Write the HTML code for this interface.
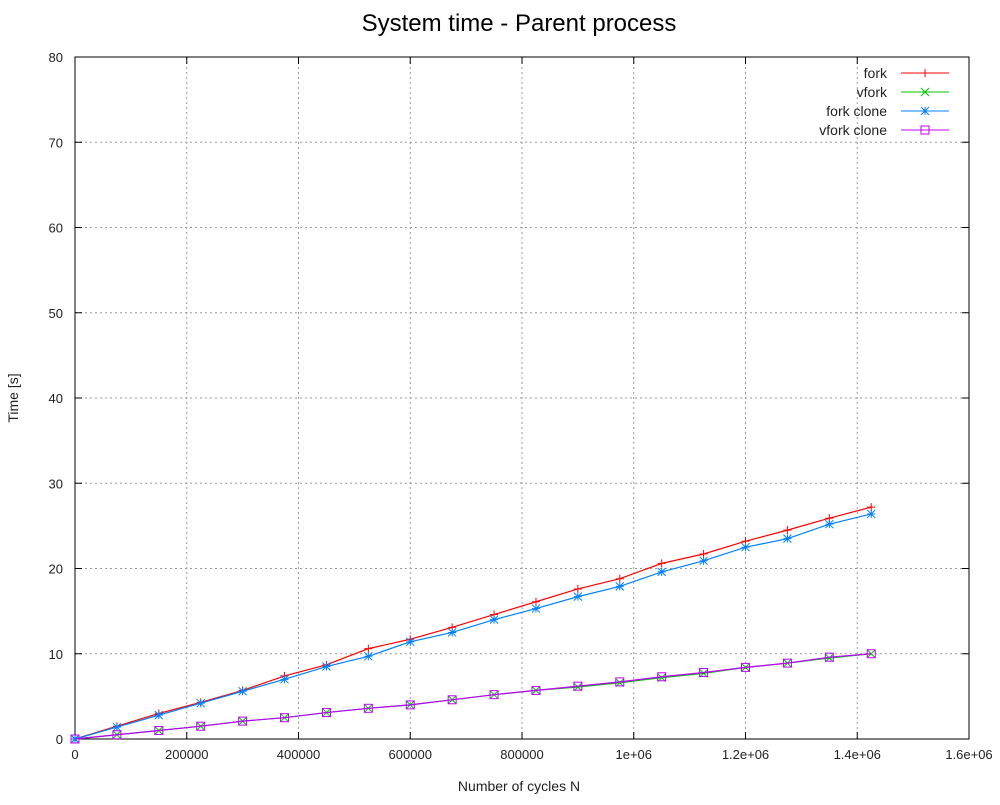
<!DOCTYPE html>
<html><head><meta charset="utf-8"><style>
body{margin:0;background:#fff}
svg text{font-family:"Liberation Sans",sans-serif}
</style></head><body>
<svg id="chart" width="1000" height="800" xmlns="http://www.w3.org/2000/svg">
<rect width="1000" height="800" fill="#fff"/>
<text x="519" y="31" font-size="24" text-anchor="middle">System time - Parent process</text>
<g id="grid"></g>
<g id="axes"></g>
<g id="series"></g>
<g id="legend"></g>
<text x="519" y="791" font-size="14" text-anchor="middle" fill="#222">Number of cycles N</text>
<text x="18" y="398" font-size="14" text-anchor="middle" fill="#222" transform="rotate(-90 18 398)">Time [s]</text>
</svg>
<script>
const xValues=[0,75000,150000,225000,300000,375000,450000,525000,600000,675000,750000,825000,900000,975000,1050000,1125000,1200000,1275000,1350000,1425000];
const forkVals=[0,1.5,3.0,4.3,5.7,7.4,8.7,10.6,11.7,13.1,14.6,16.1,17.6,18.8,20.6,21.7,23.2,24.5,25.9,27.2];
const vforkVals=[0,0.5,1.0,1.5,2.1,2.5,3.1,3.6,4.0,4.6,5.2,5.7,6.1,6.6,7.2,7.7,8.4,8.9,9.5,10.0];
const forkCloneVals=[0,1.4,2.8,4.2,5.6,7.0,8.5,9.7,11.4,12.5,14.0,15.3,16.7,17.9,19.6,20.9,22.5,23.5,25.2,26.4];
const vforkCloneVals=[0,0.5,1.0,1.5,2.1,2.5,3.1,3.6,4.0,4.6,5.2,5.7,6.2,6.7,7.3,7.8,8.4,8.9,9.6,10.0];
const xTicks=[0,200000,400000,600000,800000,1000000,1200000,1400000,1600000];
const xTickLabels=["0","200000","400000","600000","800000","1e+06","1.2e+06","1.4e+06","1.6e+06"];
const yTicks=[0,10,20,30,40,50,60,70,80];
const seriesNames=["fork","vfork","fork clone","vfork clone"];
const seriesColors=["#ff0000","#00c000","#0080ff","#c000ff"];
const L=75,R=969,T=57,B=739;
const X=v=>L+(v/1600000)*(R-L);
const Y=v=>B-(v/80)*(B-T);
const NS="http://www.w3.org/2000/svg";
function mk(tag,attrs,parent){const e=document.createElementNS(NS,tag);for(const k in attrs)e.setAttribute(k,attrs[k]);parent.appendChild(e);return e;}
const grid=document.getElementById('grid'),axes=document.getElementById('axes'),ser=document.getElementById('series'),leg=document.getElementById('legend');
xTicks.forEach((t,i)=>{const x=X(t);
 if(i>0&&i<xTicks.length-1){const g=mk('line',{x1:x,x2:x,y1:T,y2:B,stroke:'#999','stroke-dasharray':'2,3'},grid);}
 mk('line',{x1:x,x2:x,y1:B,y2:B-7,stroke:'#000'},axes);mk('line',{x1:x,x2:x,y1:T,y2:T+7,stroke:'#000'},axes);
 const tx=mk('text',{x:x,y:B+20,'font-size':13,'text-anchor':'middle',fill:'#222'},axes);tx.textContent=xTickLabels[i];
 });
yTicks.forEach((t,i)=>{const y=Y(t);
 if(i>0&&i<yTicks.length-1){const g=mk('line',{x1:L,x2:R,y1:y,y2:y,stroke:'#999','stroke-dasharray':'2,3'},grid);}
 mk('line',{x1:L,x2:L+7,y1:y,y2:y,stroke:'#000'},axes);mk('line',{x1:R,x2:R-7,y1:y,y2:y,stroke:'#000'},axes);
 const tx=mk('text',{x:L-12,y:y+5,'font-size':13,'text-anchor':'end',fill:'#222'},axes);tx.textContent=String(t);
 });
const frame=mk('rect',{x:L,y:T,width:R-L,height:B-T,fill:'none',stroke:'#000'},axes);

function marker(type,x,y,c,p){const s=4;
 if(type===0){mk('path',{d:`M${x-s} ${y}H${x+s}M${x} ${y-s}V${y+s}`,stroke:c,fill:'none'},p);}
 else if(type===1){mk('path',{d:`M${x-s} ${y-s}L${x+s} ${y+s}M${x-s} ${y+s}L${x+s} ${y-s}`,stroke:c,fill:'none'},p);}
 else if(type===2){mk('path',{d:`M${x-s} ${y}H${x+s}M${x} ${y-s}V${y+s}M${x-s} ${y-s}L${x+s} ${y+s}M${x-s} ${y+s}L${x+s} ${y-s}`,stroke:c,fill:'none'},p);}
 else {mk('rect',{x:x-s,y:y-s,width:2*s,height:2*s,stroke:c,fill:'none'},p);}
}
const allVals=[forkVals,vforkVals,forkCloneVals,vforkCloneVals];
allVals.forEach((vals,si)=>{
 const g=mk('g',{},ser);
 
 
 const pts=vals.map((v,i)=>X(xValues[i])+','+Y(v)).join(' ');
 const pl=mk('polyline',{points:pts,fill:'none',stroke:seriesColors[si],'stroke-width':1.2},g);
 
 
 vals.forEach((v,i)=>marker(si,X(xValues[i]),Y(v),seriesColors[si],g));
 const ly=73+si*19;
 const le=mk('g',{},leg);
 
 
 const t=mk('text',{x:887,y:ly+5,'font-size':14,'text-anchor':'end',fill:'#222'},le);t.textContent=seriesNames[si];
 mk('line',{x1:901,x2:949,y1:ly,y2:ly,stroke:seriesColors[si]},le);
 marker(si,925,ly,seriesColors[si],le);
});
</script>
</body></html>
